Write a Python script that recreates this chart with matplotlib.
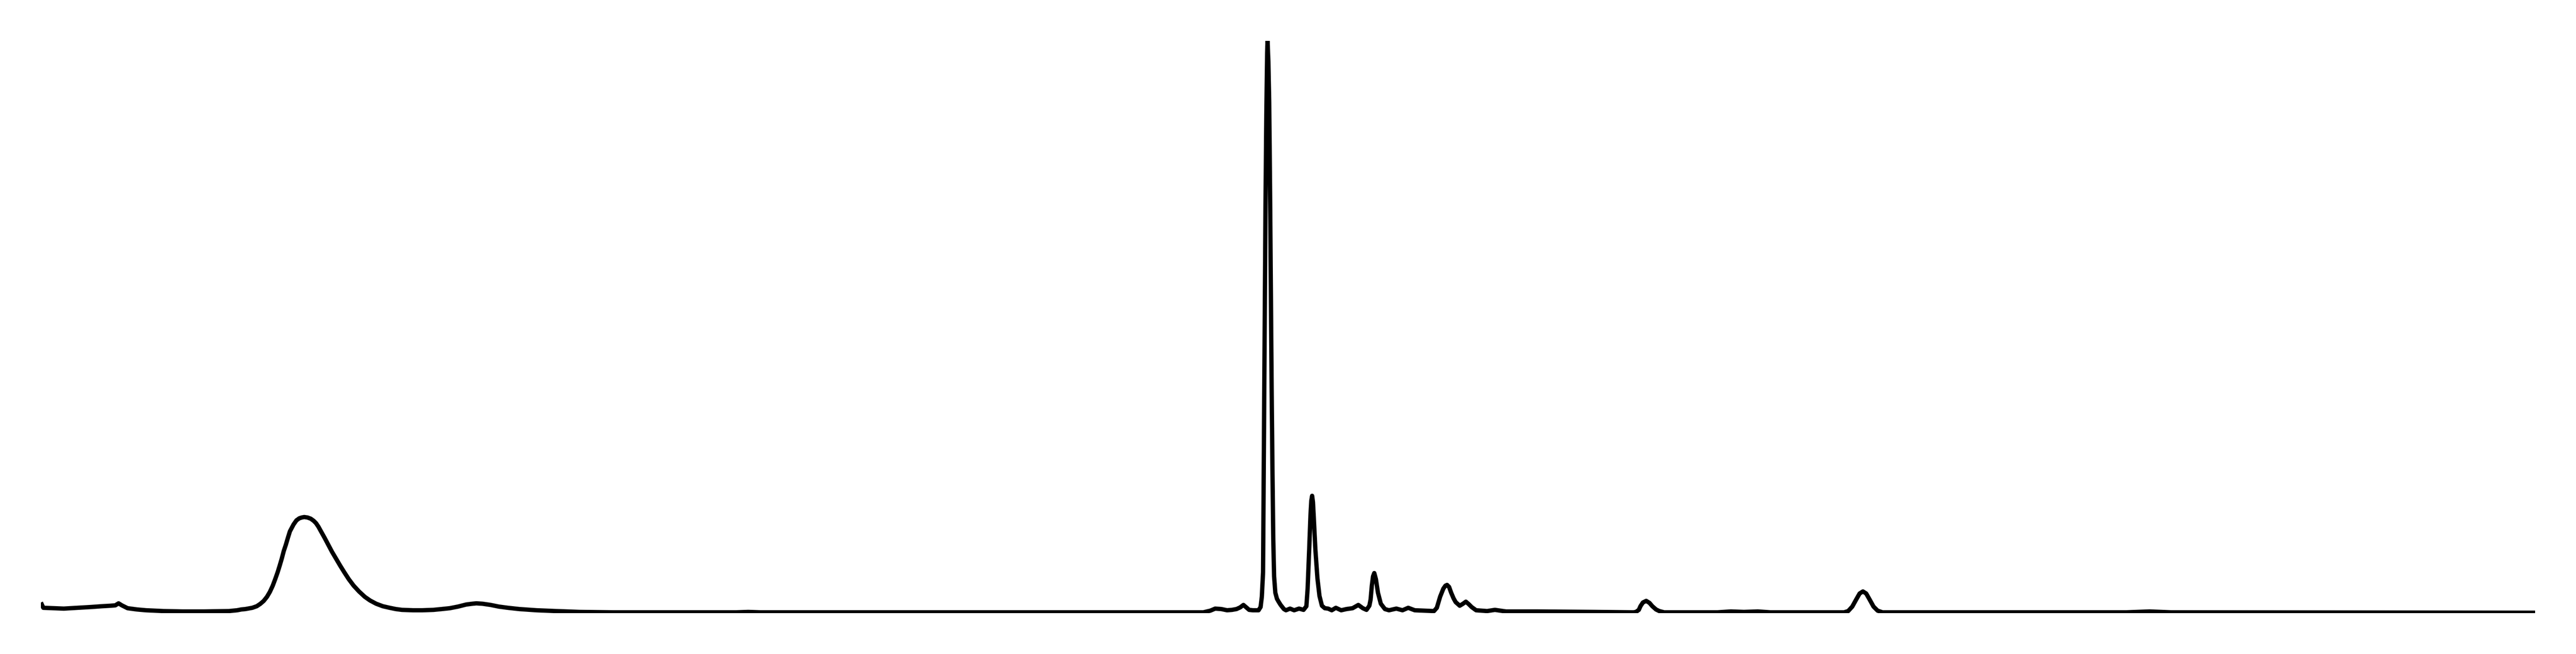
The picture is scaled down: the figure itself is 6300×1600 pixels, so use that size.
import matplotlib
matplotlib.use("Agg")
import matplotlib.pyplot as plt

# Retention position (arbitrary units) and relative intensity (% of main peak)
position = [
    0.00, 0.06, 0.30, 0.56, 0.90, 1.23, 1.50, 1.70, 1.82, 1.90, 1.98, 2.12, 2.35, 2.57, 3.00, 3.46,
    4.00, 4.60, 4.80, 4.90, 5.00, 5.17, 5.28, 5.37, 5.45, 5.53, 5.60, 5.67, 5.73, 5.79, 5.84, 5.89,
    5.94, 5.99, 6.04, 6.09, 6.18, 6.25, 6.32, 6.38, 6.44, 6.52, 6.60, 6.67, 6.73, 6.79, 6.85, 6.94,
    7.03, 7.12, 7.22, 7.32, 7.42, 7.53, 7.65, 7.78, 7.92, 8.05, 8.20, 8.36, 8.53, 8.68, 8.83, 9.10,
    9.33, 9.60, 9.80, 10.00, 10.20, 10.40, 10.55, 10.65, 10.80, 11.00, 11.20, 11.42, 11.70, 12.12,
    12.60, 13.17, 14.00, 15.00, 17.00, 17.30, 17.60, 21.00, 25.00,
    28.43, 28.60, 28.72, 28.87, 29.01, 29.13, 29.24, 29.33, 29.41, 29.48, 29.55,
    29.64, 29.78, 29.83, 29.86, 29.89, 29.91, 29.93, 29.95, 29.97, 29.99, 30.00, 30.02, 30.04, 30.06,
    30.08, 30.10, 30.12, 30.14, 30.16, 30.19, 30.23, 30.27, 30.32, 30.40, 30.45, 30.55, 30.65, 30.77,
    30.88, 30.95, 30.98, 31.02, 31.05, 31.07, 31.09, 31.11, 31.13, 31.17, 31.22, 31.27, 31.33, 31.40,
    31.48, 31.57, 31.67, 31.80, 31.93, 32.08, 32.22, 32.33, 32.42, 32.49, 32.52, 32.55, 32.58, 32.61,
    32.65, 32.70, 32.77, 32.87, 32.97, 33.15, 33.30, 33.44, 33.60, 34.07, 34.14, 34.22, 34.30, 34.35,
    34.39, 34.44, 34.49, 34.55, 34.60, 34.70, 34.78, 34.85, 34.92, 34.99, 35.10, 35.37, 35.56, 35.83,
    36.60, 38.00, 38.95, 39.01, 39.08, 39.12, 39.18, 39.26, 39.34, 39.41, 39.50, 39.58, 39.70, 41.00,
    41.33, 41.65, 41.99, 42.30, 44.10, 44.20, 44.30, 44.40, 44.48, 44.56, 44.64, 44.72, 44.82, 44.92,
    45.04, 51.00, 51.57, 52.10, 61.00,
]
intensity = [
    1.86, 0.93, 0.86, 0.79, 0.93, 1.07, 1.21, 1.29, 1.36, 1.71, 1.36, 0.86, 0.64, 0.50, 0.36, 0.29,
    0.29, 0.36, 0.50, 0.64, 0.71, 0.93, 1.21, 1.64, 2.14, 2.86, 3.71, 4.79, 5.93, 7.14, 8.29, 9.50,
    10.86, 11.93, 13.14, 14.29, 15.50, 16.21, 16.57, 16.71, 16.79, 16.71, 16.50, 16.14, 15.71, 15.07, 14.29, 13.14,
    11.93, 10.71, 9.50, 8.29, 7.14, 5.93, 4.79, 3.79, 2.86, 2.21, 1.64, 1.21, 0.93, 0.71, 0.57, 0.50,
    0.50, 0.57, 0.71, 0.86, 1.14, 1.50, 1.64, 1.71, 1.64, 1.43, 1.14, 0.93, 0.71, 0.50,
    0.36, 0.21, 0.14, 0.14, 0.14, 0.21, 0.14, 0.14, 0.14,
    0.14, 0.43, 0.79, 0.71, 0.50, 0.57, 0.71, 1.00, 1.43, 1.00, 0.57,
    0.50, 0.50, 1.07, 2.86, 7.14, 28.57, 50.00, 71.43, 87.14, 97.86, 100.00, 96.43, 89.29, 75.00,
    57.14, 39.29, 25.00, 12.86, 6.43, 3.57, 2.50, 2.00, 1.43, 0.71, 0.50, 0.79, 0.50, 0.79,
    0.57, 1.21, 4.29, 11.43, 17.14, 19.64, 20.50, 19.43, 16.79, 11.07, 6.07, 3.00, 1.29, 0.86,
    0.79, 0.50, 0.93, 0.50, 0.71, 0.86, 1.43, 0.86, 0.57, 1.29, 2.36, 4.79, 6.43, 7.00,
    5.93, 3.57, 1.64, 0.71, 0.50, 0.79, 0.50, 0.93, 0.50, 0.36, 0.93, 2.86, 4.29, 4.79,
    4.93, 4.57, 3.57, 2.57, 1.93, 1.29, 1.64, 2.00, 1.57, 1.07, 0.50, 0.36, 0.57, 0.29,
    0.29, 0.21, 0.14, 0.21, 0.57, 1.21, 1.86, 2.14, 1.79, 1.21, 0.64, 0.36, 0.14, 0.14,
    0.29, 0.21, 0.29, 0.14, 0.14, 0.36, 1.14, 2.43, 3.43, 3.79, 3.43, 2.43, 1.14, 0.43,
    0.14, 0.14, 0.29, 0.14, 0.07,
]

fig = plt.figure(figsize=(63, 16), dpi=100)
ax = fig.add_axes([100 / 6300, 100 / 1600, 6100 / 6300, 1400 / 1600])
ax.plot(position, intensity, color="black", linewidth=7.6,
        solid_joinstyle="round", solid_capstyle="butt")
ax.set_xlim(min(position), max(position))
ax.set_ylim(0, max(intensity))
ax.axis("off")
fig.savefig("out.png", dpi=100, facecolor="white")
